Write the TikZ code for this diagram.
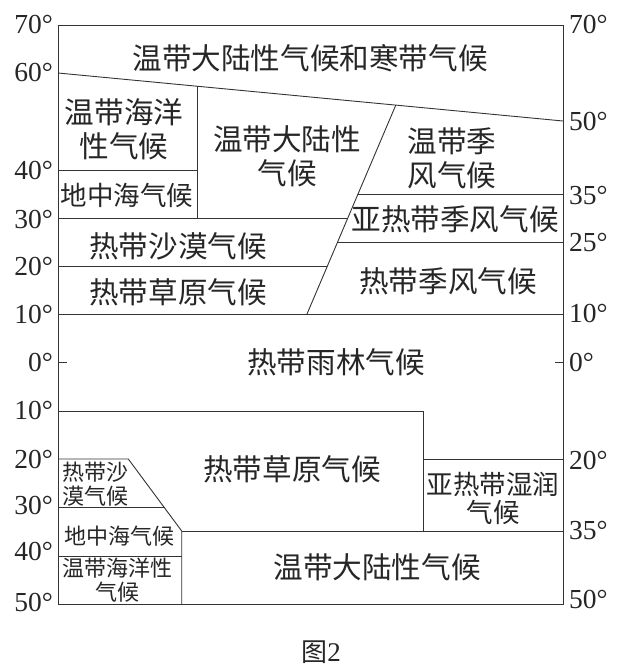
\documentclass[tikz,border=0pt]{standalone}
\usepackage{fontspec}
\setmainfont{Liberation Serif}
\newfontfamily\cjk{Noto Sans CJK SC}
\begin{document}
\begin{tikzpicture}[x=1pt,y=-1pt,
  ln/.style={draw=black!80, line width=0.9pt},
  zone/.style={font=\cjk\fontsize{29.6}{34}\selectfont, align=center, text=black!85, inner sep=0pt},
  zonem/.style={font=\cjk\fontsize{26.5}{28}\selectfont, align=center, text=black!85, inner sep=0pt},
  zones/.style={font=\cjk\fontsize{22}{24}\selectfont, align=center, text=black!85, inner sep=0pt},
  degl/.style={font=\fontsize{27.5}{27.5}\selectfont, anchor=east, text=black!85, inner sep=0pt},
  degr/.style={font=\fontsize{27.5}{27.5}\selectfont, anchor=west, text=black!85, inner sep=0pt}]
\useasboundingbox (0,0) rectangle (622,667);
\fill[white] (0,0) rectangle (622,667);
% frame
\coordinate (tl) at (58,25); \coordinate (br) at (563,604);
\draw[ln] (tl) rectangle (br);
% northern hemisphere
\coordinate (sl1) at (58,73); \coordinate (sl2) at (563,121);
\draw[ln] (sl1) -- (sl2);
\coordinate (v1t) at (197,86.2); \coordinate (v1b) at (197,218);
\draw[ln] (v1t) -- (v1b);
\draw[ln] (58,170) -- (197,170);
\coordinate (st) at (395.8,105.1); \coordinate (sb) at (307,314);
\draw[ln] (st) -- (sb);
\draw[ln] (58,218) -- (347.8,218);
\draw[ln] (358,194) -- (563,194);
\draw[ln] (337.6,242) -- (563,242);
\draw[ln] (58,266) -- (327.4,266);
\draw[ln] (58,314) -- (563,314);
\draw[ln] (58,362) -- (67,362);
\draw[ln] (555,362) -- (563,362);
% southern hemisphere
\draw[ln] (58,411) -- (423,411) -- (423,531);
\draw[ln] (423,459) -- (563,459);
\draw[ln] (182,531) -- (563,531);
\draw[ln] (58,459) -- (128.3,459) -- (181.7,531) -- (181.7,604);
\draw[ln] (58,507.7) -- (164.5,507.7);
\draw[ln] (58,556) -- (181.7,556);
% zone labels north
\node[zone] (n1) at (310,58) {温带大陆性气候和寒带气候};
\node[zone] (n2) at (124,129) {温带海洋\\性气候};
\node[zonem] (n3) at (127,195) {地中海气候};
\node[zone] (n4) at (287,156) {温带大陆性\\气候};
\node[zone] (n5) at (452,158) {温带季\\风气候};
\node[zone] (n6) at (455,219) {亚热带季风气候};
\node[zone] (n7) at (178,246) {热带沙漠气候};
\node[zone] (n8) at (178,292) {热带草原气候};
\node[zone] (n9) at (448,281) {热带季风气候};
\node[zone] (n10) at (336,362) {热带雨林气候};
% zone labels south
\node[zone] (s1) at (292,469) {热带草原气候};
\node[zonem] (s2) at (493,498) {亚热带湿润\\气候};
\node[zone] (s3) at (377,567) {温带大陆性气候};
\node[zones] (s4) at (95,484) {热带沙\\漠气候};
\node[zones] (s5) at (119,536) {地中海气候};
\node[zones] (s6) at (117,580) {温带海洋性\\气候};
% latitude labels left
\node[degl] (l70) at (53,24) {70°};
\node[degl] (l60) at (53,72) {60°};
\node[degl] (l40) at (53,170) {40°};
\node[degl] (l30) at (53,219) {30°};
\node[degl] (l20) at (53,266) {20°};
\node[degl] (l10) at (53,314) {10°};
\node[degl] (l0) at (53,362) {0°};
\node[degl] (l10s) at (53,410) {10°};
\node[degl] (l20s) at (53,459) {20°};
\node[degl] (l30s) at (53,505) {30°};
\node[degl] (l40s) at (53,551) {40°};
\node[degl] (l50s) at (53,602) {50°};
% latitude labels right
\node[degr] (r70) at (569,24) {70°};
\node[degr] (r50) at (569,121) {50°};
\node[degr] (r35) at (569,195) {35°};
\node[degr] (r25) at (569,242) {25°};
\node[degr] (r10) at (569,313) {10°};
\node[degr] (r0) at (569,362) {0°};
\node[degr] (r20s) at (569,460) {20°};
\node[degr] (r35s) at (569,530) {35°};
\node[degr] (r50s) at (569,599) {50°};
% caption
\node[inner sep=0pt, text=black!85] (cap) at (321,652) {{\cjk\fontsize{26}{26}\selectfont 图}{\fontsize{27}{27}\selectfont 2}};
\end{tikzpicture}
\end{document}
